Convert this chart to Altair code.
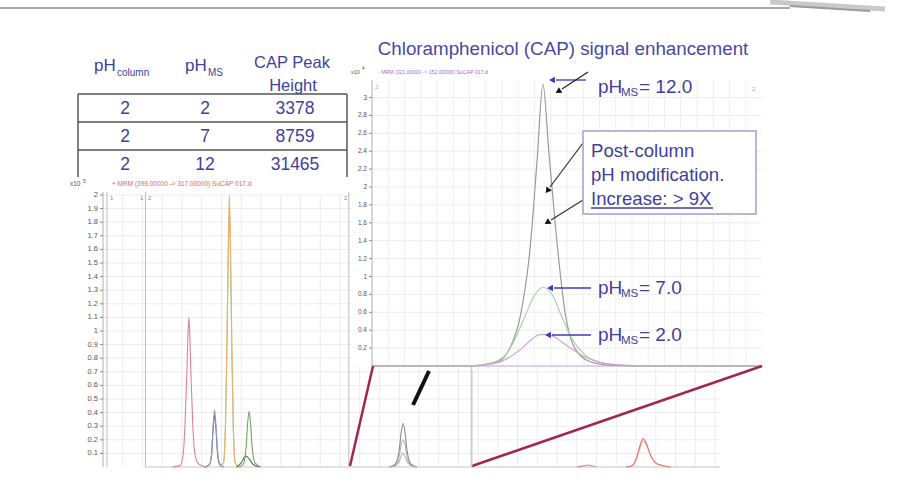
import altair as alt
import pandas as pd

FONT = "Liberation Sans"
BLUE = "#3f3f9c"
TITLE = "#4848a4"

# ---------------- data ----------------
table_ph_column = ["2", "2", "2"]
table_ph_ms = ["2", "7", "12"]
table_peak_height = ["3378", "8759", "31465"]

# left chromatogram (x10^5 counts) tick values
left_ticks = [0.1, 0.2, 0.3, 0.4, 0.5, 0.6, 0.7, 0.8, 0.9, 1.0,
              1.1, 1.2, 1.3, 1.4, 1.5, 1.6, 1.7, 1.8, 1.9, 2.0]
left_grid_t = [1.2, 1.4, 1.6, 1.8, 2.0, 2.2, 2.4, 2.6, 2.8, 3.0, 3.2, 3.4,
               3.6, 3.8, 4.0, 4.2, 4.4, 4.6, 4.8, 5.0, 5.2, 5.4, 5.6, 5.8,
               6.0, 6.2, 6.4, 6.6, 6.8, 7.0, 7.2]
left_segments_t = [1.04, 1.43, 3.49, 4.73]

# right (CAP) chromatogram (x10^4 counts) tick values
right_ticks = [0.2, 0.4, 0.6, 0.8, 1.0, 1.2, 1.4, 1.6, 1.8, 2.0,
               2.2, 2.4, 2.6, 2.8, 3.0]
right_grid_t = [2.025, 2.05, 2.075, 2.1, 2.125, 2.15, 2.175, 2.2, 2.225,
                2.25, 2.275, 2.3, 2.325, 2.35, 2.375, 2.4, 2.425, 2.45,
                2.475, 2.5, 2.525, 2.55, 2.575]

# left chromatogram traces (time min, intensity x10^5)
base_t = [1.43, 7.25]
base_y = [0, 0]
s1_t = [1.70, 1.78, 1.81, 1.83, 1.85, 1.86, 1.87, 1.88, 1.89, 1.91, 1.93, 1.96, 2.00, 2.05]
s1_y = [0, 0.01, 0.08, 0.3, 0.7, 0.95, 1.10, 0.96, 0.7, 0.3, 0.1, 0.03, 0.01, 0]
s2_t = [2.03, 2.08, 2.10, 2.115, 2.13, 2.145, 2.16, 2.18, 2.22]
s2_y = [0, 0.02, 0.1, 0.3, 0.42, 0.3, 0.12, 0.03, 0]
s2b_y = [0, 0.02, 0.09, 0.27, 0.38, 0.27, 0.1, 0.02, 0]
s3_t = [2.18, 2.22, 2.24, 2.255, 2.27, 2.28, 2.29, 2.305, 2.32, 2.34, 2.38]
s3_y = [0, 0.03, 0.3, 0.9, 1.7, 2.0, 1.7, 0.9, 0.3, 0.03, 0]
s3b_y = [0, 0.03, 0.28, 0.85, 1.6, 1.9, 1.6, 0.85, 0.28, 0.03, 0]
s4_t = [2.38, 2.42, 2.45, 2.465, 2.48, 2.495, 2.51, 2.54, 2.6]
s4_y = [0, 0.02, 0.15, 0.32, 0.41, 0.32, 0.15, 0.03, 0]
s5_t = [2.35, 2.40, 2.43, 2.45, 2.48, 2.52, 2.58]
s5_y = [0, 0.03, 0.07, 0.08, 0.06, 0.02, 0]
s6_t = [3.90, 3.96, 4.00, 4.02, 4.04, 4.06, 4.08, 4.12, 4.18]
s6_y = [0, 0.02, 0.12, 0.25, 0.32, 0.25, 0.12, 0.02, 0]
s6b_y = [0, 0.01, 0.08, 0.16, 0.2, 0.16, 0.08, 0.01, 0]
s6c_y = [0, 0.01, 0.04, 0.08, 0.1, 0.08, 0.04, 0.01, 0]
s7_t = [6.30, 6.36, 6.40, 6.44, 6.47, 6.50, 6.55, 6.62, 6.75]
s7_y = [0, 0.01, 0.06, 0.16, 0.21, 0.18, 0.08, 0.02, 0]
s7b_y = [0, 0.01, 0.05, 0.14, 0.19, 0.17, 0.08, 0.02, 0]
s8_t = [5.80, 5.88, 5.91, 5.94, 6.0]
s8_y = [0, 0.01, 0.015, 0.01, 0]

# right chromatogram traces (time min, intensity x10^4)
ph12_t = [2.0, 2.151, 2.166, 2.197, 2.212, 2.228, 2.243, 2.254, 2.263, 2.272,
          2.283, 2.297, 2.312, 2.335, 2.366, 2.428, 2.6]
ph12_y = [0, 0, 0.01, 0.06, 0.2, 0.55, 1.3, 2.3, 3.15, 2.4, 1.5, 0.6, 0.2,
          0.05, 0.01, 0, 0]
ph7_t = [2.0, 2.151, 2.182, 2.205, 2.220, 2.235, 2.251, 2.263, 2.277, 2.292,
         2.308, 2.328, 2.351, 2.382, 2.443, 2.6]
ph7_y = [0, 0, 0.03, 0.12, 0.3, 0.55, 0.8, 0.88, 0.8, 0.55, 0.3, 0.12, 0.04,
         0.01, 0, 0]
ph2_t = [2.0, 2.151, 2.189, 2.212, 2.231, 2.246, 2.258, 2.271, 2.286, 2.305,
         2.328, 2.351, 2.382, 2.443, 2.6]
ph2_y = [0, 0, 0.03, 0.1, 0.2, 0.3, 0.35, 0.35, 0.3, 0.2, 0.1, 0.04, 0.01, 0, 0]


def long(series):
    rows = []
    for name, ts, ys in series:
        for t, y in zip(ts, ys):
            rows.append({"series": name, "t": t, "y": y})
    return pd.DataFrame(rows)


left_df = long([
    ("base", base_t, base_y),
    ("s1", s1_t, s1_y), ("s2b", s2_t, s2b_y), ("s2", s2_t, s2_y),
    ("s3b", s3_t, s3b_y), ("s3", s3_t, s3_y), ("s5", s5_t, s5_y),
    ("s4", s4_t, s4_y), ("s6", s6_t, s6_y), ("s6b", s6_t, s6b_y),
    ("s6c", s6_t, s6c_y), ("s7b", s7_t, s7b_y), ("s7", s7_t, s7_y),
    ("s8", s8_t, s8_y),
])
right_df = long([("pH 12.0", ph12_t, ph12_y), ("pH 7.0", ph7_t, ph7_y),
                 ("pH 2.0", ph2_t, ph2_y)])

left_names = ["base", "s1", "s2b", "s2", "s3b", "s3", "s5", "s4", "s6", "s6b",
              "s6c", "s7b", "s7", "s8"]
left_colors = ["#c8c8c8", "#e27fa0", "#6e7088", "#8f9bc0", "#9ccc88", "#f0b070",
               "#5f705f", "#6ca864", "#8a8a8a", "#b0b0b0", "#c8a0c8", "#f2b0b0",
               "#e07272", "#e09090"]

# ---------------- scales ----------------
lx = alt.Scale(domain=[1.0, 7.25], range=[103, 720])
ly = alt.Scale(domain=[0, 2.0], range=[467, 195])
rx = alt.Scale(domain=[2.0, 2.6], range=[372, 762])
ry = alt.Scale(domain=[0, 3.0], range=[366, 97.5])

ONE = alt.Data(values=[{"k": 0}])


def T(s, x, y, size, color=BLUE, align="left", baseline="middle", weight="normal"):
    return alt.Chart(ONE).mark_text(
        text=s, font=FONT, fontSize=size, color=color, align=align,
        baseline=baseline, fontWeight=weight
    ).encode(x=alt.value(x), y=alt.value(y))


def R(x1, y1, x2, y2, color="#555555", w=1.0):
    return alt.Chart(ONE).mark_rule(color=color, strokeWidth=w).encode(
        x=alt.value(x1), y=alt.value(y1), x2=alt.value(x2), y2=alt.value(y2))


def HEAD(x, y, angle, color, size=60):
    return alt.Chart(ONE).mark_point(
        shape="triangle", angle=angle, filled=True, color=color, size=size,
        opacity=1).encode(x=alt.value(x), y=alt.value(y))


def BOX(x1, y1, x2, y2, fill="white", stroke=None, w=1.0):
    kw = dict(fill=fill, strokeWidth=w)
    if stroke:
        kw["stroke"] = stroke
    return alt.Chart(ONE).mark_rect(**kw).encode(
        x=alt.value(x1), y=alt.value(y1), x2=alt.value(x2), y2=alt.value(y2))


layers = []

# slide frame
layers.append(R(0, 8, 790, 8, "#8a8a8a", 1.5))
layers.append(R(770, 2, 885, 9, "#c9c9c9", 5))
layers.append(R(790, 6, 870, 11, "#9a9a9a", 2))

# ---- left chromatogram background grid ----
ltick_df = pd.DataFrame({"v": left_ticks})
lgrid_df = pd.DataFrame({"t": left_grid_t})
lseg_df = pd.DataFrame({"t": left_segments_t})
layers.append(alt.Chart(ltick_df).mark_rule(color="#ececec", strokeWidth=1).encode(
    y=alt.Y("v:Q", scale=ly, axis=None), x=alt.value(103), x2=alt.value(720)))
layers.append(alt.Chart(lgrid_df).mark_rule(color="#ececec", strokeWidth=1).encode(
    x=alt.X("t:Q", scale=lx, axis=None), y=alt.value(195), y2=alt.value(467)))
layers.append(alt.Chart(lseg_df).mark_rule(color="#bdbdbd", strokeWidth=1).encode(
    x=alt.X("t:Q", scale=lx, axis=None), y=alt.value(192), y2=alt.value(467)))
layers.append(R(103, 192, 103, 467, "#b0b0b0", 1))
layers.append(alt.Chart(ltick_df).mark_rule(color="#888888", strokeWidth=1).encode(
    y=alt.Y("v:Q", scale=ly, axis=None), x=alt.value(100), x2=alt.value(103)))
layers.append(alt.Chart(ltick_df).mark_text(
    font=FONT, fontSize=7.5, color="#555555", align="right", baseline="middle").encode(
    y=alt.Y("v:Q", scale=ly, axis=None), x=alt.value(98),
    text=alt.Text("v:Q", format="~g")))
layers.append(T("x10", 70, 184, 6.5, "#555555"))
layers.append(T("5", 83, 181, 5, "#555555"))
layers.append(T("+ MRM (399.00000 -> 317.00000) SuCAP 017.d", 112, 184, 6.5, "#d96a55"))
layers.append(T("1", 110, 198, 6, "#888888"))
layers.append(T("1", 140, 198, 6, "#888888"))
layers.append(T("2", 148, 198, 6, "#888888"))
layers.append(T("2", 344, 198, 6, "#888888"))
layers.append(T("3", 352, 198, 6, "#888888"))

# ---- left traces ----
layers.append(alt.Chart(left_df).mark_line(strokeWidth=1.1, interpolate="monotone").encode(
    x=alt.X("t:Q", scale=lx, axis=None),
    y=alt.Y("y:Q", scale=ly, axis=None),
    color=alt.Color("series:N", scale=alt.Scale(domain=left_names, range=left_colors), legend=None),
    detail="series:N"))

# ---- table ----
layers.append(T("pH", 94, 66, 17))
layers.append(T("column", 117, 73, 10))
layers.append(T("pH", 185, 66, 17))
layers.append(T("MS", 208, 73, 10))
layers.append(T("CAP Peak", 292, 63, 16.5, align="center"))
layers.append(T("Height", 293, 86, 16.5, align="center"))
layers.append(R(78, 94, 347, 94, "#555555", 1.5))
layers.append(R(78, 122, 347, 122, "#555555", 1.5))
layers.append(R(78, 150, 347, 150, "#555555", 1.5))
layers.append(R(78, 94, 78, 177, "#555555", 1.5))
layers.append(R(347, 94, 347, 177, "#555555", 1.5))
row_y = [109, 137, 165]
for i in range(3):
    layers.append(T(table_ph_column[i], 125, row_y[i], 17.5, align="center"))
    layers.append(T(table_ph_ms[i], 205, row_y[i], 17.5, align="center"))
    layers.append(T(table_peak_height[i], 295, row_y[i], 17.5, align="center"))

# ---- title ----
layers.append(T("Chloramphenicol (CAP) signal enhancement", 563, 49, 18.8, TITLE, align="center"))

# ---- right inset ----
layers.append(BOX(351, 78, 765, 366, fill="white"))
rtick_df = pd.DataFrame({"v": right_ticks})
rgrid_df = pd.DataFrame({"t": right_grid_t})
layers.append(alt.Chart(rtick_df).mark_rule(color="#ececec", strokeWidth=1).encode(
    y=alt.Y("v:Q", scale=ry, axis=None), x=alt.value(372), x2=alt.value(762)))
layers.append(alt.Chart(rgrid_df).mark_rule(color="#efefef", strokeWidth=1).encode(
    x=alt.X("t:Q", scale=rx, axis=None), y=alt.value(80), y2=alt.value(366)))
layers.append(R(372, 80, 372, 366, "#b0b0b0", 1))
layers.append(alt.Chart(rtick_df).mark_rule(color="#888888", strokeWidth=1).encode(
    y=alt.Y("v:Q", scale=ry, axis=None), x=alt.value(369), x2=alt.value(372)))
layers.append(alt.Chart(rtick_df).mark_text(
    font=FONT, fontSize=6.5, color="#555555", align="right", baseline="middle").encode(
    y=alt.Y("v:Q", scale=ry, axis=None), x=alt.value(367),
    text=alt.Text("v:Q", format="~g")))
layers.append(T("x10", 351, 72, 5.5, "#555555"))
layers.append(T("4", 362, 69, 4.5, "#555555"))
layers.append(T("- MRM (321.00000 -> 152.00000) SuCAP 017.d", 378, 72, 5.2, "#a070c0"))
layers.append(T("2", 375, 87, 6, "#aaaaaa"))
layers.append(T("2", 752, 89, 6, "#aaaaaa"))
layers.append(R(372, 366, 762, 366, "#c0a0d0", 1))

layers.append(alt.Chart(right_df).mark_line(strokeWidth=1.2, interpolate="monotone").encode(
    x=alt.X("t:Q", scale=rx, axis=None),
    y=alt.Y("y:Q", scale=ry, axis=None),
    color=alt.Color("series:N", scale=alt.Scale(domain=["pH 12.0", "pH 7.0", "pH 2.0"],
                                                range=["#9a9a9a", "#a6d8a0", "#d2a0d2"]),
                    legend=None)))

# ---- zoom indicators ----
layers.append(R(350, 466, 373, 366, "#a3264f", 2.5))
layers.append(R(472, 466, 762, 366, "#a3264f", 2.5))
layers.append(R(472, 370, 472, 466, "#c8c8c8", 1))
layers.append(R(413, 405, 429, 371, "#111111", 4))


# ---- annotations ----
def ph_label(x, y, val):
    return [T("pH", x, y, 19), T("MS", x + 23, y + 6, 11.5), T("= " + val, x + 41, y, 19)]


layers += ph_label(598, 87, "12.0")
layers += ph_label(598, 288, "7.0")
layers += ph_label(598, 335, "2.0")

# blue arrows
layers.append(R(556, 80, 586, 80, "#3a3ab8", 1.3))
layers.append(HEAD(553, 80, 270, "#3a3ab8", 45))
layers.append(R(554, 288, 591, 288, "#3a3ab8", 1.3))
layers.append(HEAD(551, 288, 270, "#3a3ab8", 45))
layers.append(R(552, 335, 591, 335, "#3a3ab8", 1.3))
layers.append(HEAD(549, 335, 270, "#3a3ab8", 45))

# black arrows
layers.append(R(588, 72, 562, 89, "#222222", 1.2))
layers.append(HEAD(559, 91, 238, "#111111", 45))
layers.append(R(583, 143, 550, 187, "#333333", 1.2))
layers.append(HEAD(548, 190, 217, "#111111", 45))
layers.append(R(583, 200, 551, 220, "#333333", 1.2))
layers.append(HEAD(548, 222, 238, "#111111", 45))

# box
layers.append(BOX(583, 131, 756, 214, fill="white", stroke="#a0a0d0", w=1.5))
layers.append(T("Post-column", 591, 151, 18.6))
layers.append(T("pH modification.", 591, 175, 18.6))
layers.append(T("Increase: > 9X", 591, 199, 18.6))
layers.append(R(591, 208, 713, 208, BLUE, 1.3))

chart = alt.layer(*layers).resolve_scale(
    x="independent", y="independent", color="independent"
).properties(
    width=923, height=491, padding=0, autosize="none", background="white"
).configure_view(stroke=None)

chart.save("out.html", embed_options={"renderer": "svg", "actions": False})
